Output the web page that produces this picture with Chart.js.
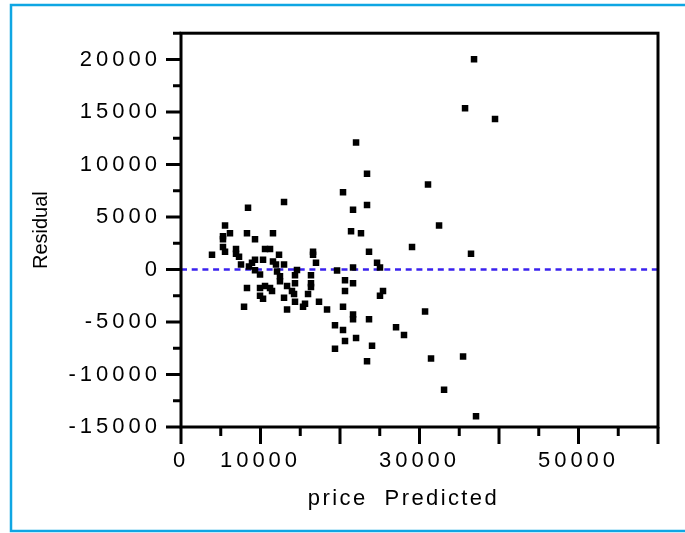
<!DOCTYPE html>
<html>
<head>
<meta charset="utf-8">
<script src="https://cdn.jsdelivr.net/npm/chart.js@4"></script>
<style>
  html, body { margin: 0; padding: 0; background: #ffffff; }
  canvas { display: block; }
</style>
</head>
<body>
<canvas id="chart" width="685" height="533"></canvas>
<script>
'use strict';

// Predicted price (x) for each observation
const predicted = [
  3900, 5280, 5280, 5540, 6160, 8300, 11570, 9310, 5280, 5540,
  6920, 6920, 7300, 10570, 11200, 12330, 9310, 10320, 8930, 7550,
  11570, 11950, 12960, 8550, 9310, 9940, 12080, 12450, 12450, 8300,
  9940, 10570, 11200, 11450, 9940, 10320, 13340, 13960, 14220, 12960,
  7930, 13340, 14340, 14340, 14340, 14590, 16350, 16350, 16350, 15980,
  15600, 15350, 17360, 18370, 16610, 16610, 16980, 19630, 20630, 21640,
  20630, 20380, 21640, 21640, 23650, 25410, 25030, 19370, 20380, 20630,
  22020, 19370, 24030, 23400, 21640, 24660, 25030, 23650, 21390, 22640,
  21640, 23400, 20380, 23400, 22020, 8430, 12960, 31070, 32460, 29060,
  36480, 36860, 35730, 39500, 30700, 27050, 28050, 31450, 35480, 33090,
  37110,
];

// Residual (y) for each observation
const residual = [
  1400, 3170, 2890, 4190, 3450, 3450, 3450, 2890, 2140, 1680,
  1960, 1490, 1210, 1960, 1960, 1400, 930, 930, 650, 470,
  750, 470, 470, 280, -80, -470, -190, -650, -1120, -1770,
  -1770, -1580, -1770, -2050, -2510, -2790, -1580, -2050, -2330, -2700,
  -3540, -3820, -3070, -560, -1300, -50, -560, -1300, -1680, -2330,
  -3260, -3540, -3070, -3820, 1680, 1400, 650, -90, -1020, -1300,
  -2050, -3540, -4280, -4750, -4750, -2050, -2510, -5310, -5770, -6800,
  -6520, -7540, -7260, -8750, 190, 650, 190, 1680, 3630, 3450,
  5680, 6150, 7360, 9120, 12100, 5870, 6420, 8100, 4190, 2140,
  1490, 20020, 15360, 14340, -4000, -5490, -6240, -8470, -8290, -11450,
  -13970,
];

// Reference line at zero residual
const zeroLineX = [0, 60000];
const zeroLineY = [0, 0];

// Axis ranges and tick values
const xRange = [0, 60000];
const yRange = [-15000, 22500];
const xTickValues = [0, 10000, 20000, 30000, 40000, 50000, 60000];
const xTickLabels = [0, 10000, 30000, 50000];
const yTickValues = [-15000, -10000, -5000, 0, 5000, 10000, 15000, 20000];

const FONT = '"Liberation Sans", Arial, sans-serif';

// Letter spacing per text kind, and a small nudge for the x title
const TICK_SPACING = '4px';
const TITLE_SPACING = { x: '2.4px', y: '0px' };
const TITLE_SHIFT = { x: -16, y: 0 };

// Blue frame, plot box, tick marks
const framePlugin = {
  id: 'framePlugin',
  afterLayout(chart) {
    // titles get their own letter spacing
    Object.values(chart.scales).forEach((scale) => {
      if (scale._spacedTitle) return;
      const drawTitle = scale.drawTitle.bind(scale);
      scale.drawTitle = function () {
        const ctx = this.ctx;
        const prev = ctx.letterSpacing;
        ctx.save();
        ctx.translate(TITLE_SHIFT[this.id] || 0, 0);
        ctx.letterSpacing = TITLE_SPACING[this.id] || '0px';
        drawTitle();
        ctx.restore();
        ctx.letterSpacing = prev;
      };
      scale._spacedTitle = true;
    });
  },
  beforeDraw(chart) {
    const { ctx, width, height } = chart;
    ctx.save();
    ctx.fillStyle = '#ffffff';
    ctx.fillRect(0, 0, width, height);
    ctx.strokeStyle = '#0fa6e3';
    ctx.lineWidth = 2.5;
    ctx.beginPath();
    ctx.moveTo(width, 5);
    ctx.lineTo(11, 5);
    ctx.lineTo(11, 531);
    ctx.lineTo(width, 531);
    ctx.stroke();
    ctx.restore();
    ctx.letterSpacing = TICK_SPACING;
  },
  afterDraw(chart) {
    const { ctx, chartArea: a, scales } = chart;
    ctx.letterSpacing = '0px';
    ctx.save();
    ctx.strokeStyle = '#000000';
    ctx.lineWidth = 3;
    ctx.lineCap = 'butt';
    ctx.strokeRect(a.left, a.top, a.right - a.left, a.bottom - a.top);

    // major ticks at labels, minor ticks halfway
    ctx.beginPath();
    for (let v = yRange[0]; v <= yRange[1]; v += 2500) {
      const y = scales.y.getPixelForValue(v);
      const len = v % 5000 === 0 ? 15 : 8;
      ctx.moveTo(a.left, y);
      ctx.lineTo(a.left - len, y);
    }
    for (let v = xRange[0]; v <= xRange[1]; v += 5000) {
      const x = scales.x.getPixelForValue(v);
      const len = v % 10000 === 0 ? 17 : 9;
      ctx.moveTo(x, a.bottom);
      ctx.lineTo(x, a.bottom + len);
    }
    ctx.stroke();
    ctx.restore();
  },
};

const configuration = {
  type: 'scatter',
  data: {
    datasets: [
      {
        data: predicted.map((x, i) => ({ x: x, y: residual[i] })),
        pointStyle: 'rect',
        pointRadius: 4.6,
        pointBorderWidth: 0,
        backgroundColor: '#000000',
        borderColor: '#000000',
      },
      {
        type: 'line',
        data: zeroLineX.map((x, i) => ({ x: x, y: zeroLineY[i] })),
        borderColor: '#3a22ee',
        borderWidth: 2.5,
        borderDash: [6, 4.7],
        pointRadius: 0,
        fill: false,
      },
    ],
  },
  options: {
    responsive: false,
    animation: false,
    events: [],
    plugins: {
      legend: { display: false },
      tooltip: { enabled: false },
    },
    layout: {
      padding: { top: 26, right: 27, left: 0, bottom: 0 },
    },
    scales: {
      x: {
        type: 'linear',
        min: xRange[0],
        max: xRange[1],
        grid: { display: false, drawTicks: false },
        border: { display: false },
        afterBuildTicks(scale) {
          scale.ticks = xTickValues.map((v) => ({ value: v }));
        },
        ticks: {
          autoSkip: false,
          maxRotation: 0,
          padding: 21,
          color: '#000000',
          font: { family: FONT, size: 22 },
          callback: (v) => (xTickLabels.includes(v) ? String(v) : ''),
        },
        title: {
          display: true,
          text: 'price  Predicted',
          color: '#000000',
          font: { family: FONT, size: 22 },
          padding: { top: 0, bottom: 21 },
        },
        afterFit(scale) {
          scale.height = 106;
        },
      },
      y: {
        type: 'linear',
        min: yRange[0],
        max: yRange[1],
        grid: { display: false, drawTicks: false },
        border: { display: false },
        afterBuildTicks(scale) {
          scale.ticks = yTickValues.map((v) => ({ value: v }));
        },
        ticks: {
          autoSkip: false,
          padding: 20,
          color: '#000000',
          font: { family: FONT, size: 22 },
          callback: (v) => String(v),
        },
        title: {
          display: true,
          text: 'Residual',
          color: '#000000',
          font: { family: FONT, size: 20 },
          padding: { top: 29, bottom: 0 },
        },
        afterFit(scale) {
          scale.width = 181;
        },
      },
    },
  },
  plugins: [framePlugin],
};

new Chart(document.getElementById('chart').getContext('2d'), configuration);
</script>
</body>
</html>
